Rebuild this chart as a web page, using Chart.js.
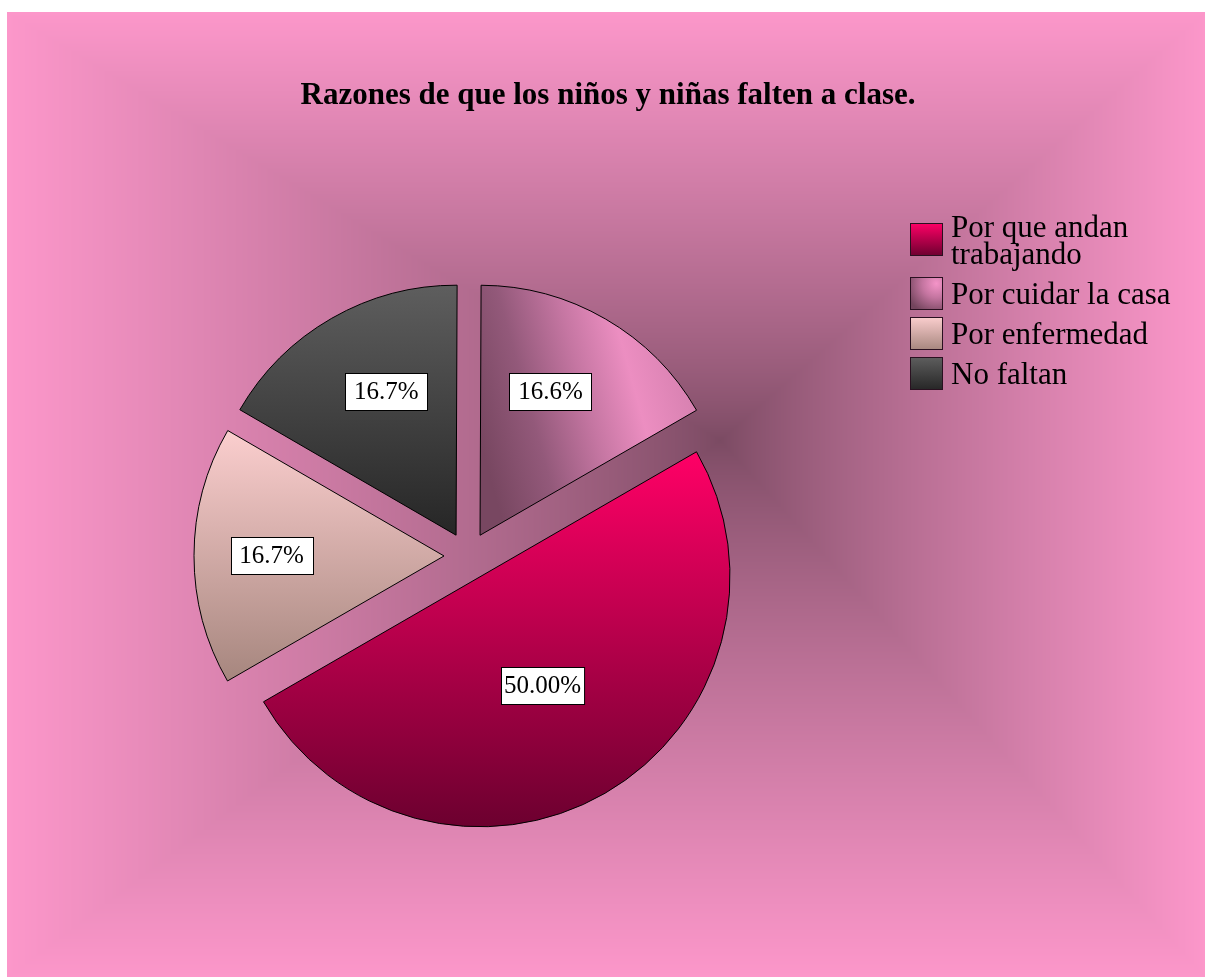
<!DOCTYPE html>
<html>
<head>
<meta charset="utf-8">
<title>Razones de que los niños y niñas falten a clase</title>
<script src="https://cdn.jsdelivr.net/npm/chart.js@4.4.0/dist/chart.umd.min.js"></script>
<style>
  html, body { margin: 0; padding: 0; background: #fff; }
  canvas { display: block; }
</style>
</head>
<body>
<canvas id="chart" width="1205" height="977"></canvas>
<script>
// data, in legend order
const TITLE = 'Razones de que los niños y niñas falten a clase.';
const categories = ['Por que andan trabajando', 'Por cuidar la casa', 'Por enfermedad', 'No faltan'];
const legendLines = [['Por que andan', 'trabajando'], ['Por cuidar la casa'], ['Por enfermedad'], ['No faltan']];
const percentValues = [50.0, 16.6, 16.7, 16.7];
const percentLabels = ['50.00%', '16.6%', '16.7%', '16.7%'];
// slices go clockwise from the 60deg rotation in this order
const sliceOrder = [0, 2, 3, 1];

/* ------------------------------- styling ------------------------------- */
const FONT = '"Liberation Serif", "Times New Roman", serif';
const ROTATION = 60;     // degrees, 0 = 12 o'clock
const PIE_RADIUS = 250;
const EXPLODE = 24;      // px each slice is pulled out
const labelDist = [0.5, 0.64, 0.69, 0.64];   // label distance from slice tip, * radius
const labelTurn = [0, -4, 0, 4];             // degrees, nudges label off the mid angle

const BG = { left: 7, top: 12, right: 1205, bottom: 977, cx: 720, cy: 440 };
const BG_EDGE = [252, 151, 202];
const BG_CENTER = [122, 74, 98];
const BG_GAMMA = 0.8;

// fill for slice / legend box k inside box (x0,y0)-(x1,y1)
function makeFill(ctx, k, x0, y0, x1, y1, isBox) {
  let g;
  if (k === 0) {
    g = ctx.createLinearGradient(0, y0, 0, y1);
    g.addColorStop(0, '#ff0066');
    g.addColorStop(1, '#6c002f');
  } else if (k === 1) {
    const w = x1 - x0, h = y1 - y0;
    if (isBox) {
      g = ctx.createRadialGradient(x0 + w * 0.8, y0 + h * 0.2, 0, x0 + w * 0.8, y0 + h * 0.2, w * 0.95);
      g.addColorStop(0, '#f494c8');
      g.addColorStop(0.45, '#c475a0');
      g.addColorStop(1, '#74455d');
    } else {
      const ym = (y0 + y1) / 2;
      g = ctx.createLinearGradient(x0, ym + h * 0.12, x1, ym - h * 0.12);
      g.addColorStop(0, '#784761');
      g.addColorStop(0.25, '#93597a');
      g.addColorStop(0.5, '#c576a2');
      g.addColorStop(0.72, '#ec8ec1');
      g.addColorStop(1, '#d47fae');
    }
  } else if (k === 2) {
    g = ctx.createLinearGradient(0, y0, 0, y1);
    g.addColorStop(0, '#fbcece');
    g.addColorStop(1, '#a6867e');
  } else {
    g = ctx.createLinearGradient(0, y0, 0, y1);
    g.addColorStop(0, '#5e5e5e');
    g.addColorStop(1, '#262626');
  }
  return g;
}

// exploded tip of pie slice i (pie order) from the chart area
function sliceTip(chart, i) {
  const a = chart.chartArea;
  const cx = (a.left + a.right) / 2, cy = (a.top + a.bottom) / 2;
  const vals = chart.data.datasets[0].data;
  const total = vals.reduce((s, v) => s + v, 0);
  let before = 0;
  for (let j = 0; j < i; j++) before += vals[j];
  const mid = (ROTATION - 90) * Math.PI / 180 + (before + vals[i] / 2) / total * 2 * Math.PI;
  return { x: cx + Math.cos(mid) * EXPLODE, y: cy + Math.sin(mid) * EXPLODE };
}

function sliceFill(c) {
  const chart = c.chart;
  if (!chart.chartArea) return '#ccc';
  const k = sliceOrder[c.dataIndex];
  const t = sliceTip(chart, c.dataIndex);
  const R = PIE_RADIUS;
  const ctx = chart.ctx;
  if (k === 0) return makeFill(ctx, 0, t.x - R, t.y - R / 2, t.x + R, t.y + R);
  if (k === 1) return makeFill(ctx, 1, t.x, t.y - R, t.x + R * 0.87, t.y);
  if (k === 2) return makeFill(ctx, 2, t.x - R, t.y - R / 2, t.x, t.y + R / 2);
  return makeFill(ctx, 3, t.x - R * 0.87, t.y - R, t.x, t.y);
}

/* ------------------------------ background ----------------------------- */
let bgCanvas = null;
function buildBackground(w, h) {
  const off = document.createElement('canvas');
  off.width = w; off.height = h;
  const octx = off.getContext('2d');
  const img = octx.createImageData(w, h);
  const d = img.data;
  for (let y = 0; y < h; y++) {
    for (let x = 0; x < w; x++) {
      const p = (y * w + x) * 4;
      if (x < BG.left || y < BG.top || x >= BG.right || y >= BG.bottom) {
        d[p] = d[p + 1] = d[p + 2] = 255; d[p + 3] = 255;
        continue;
      }
      // rectangular "from centre" gradient
      const tx = x < BG.cx ? (BG.cx - x) / (BG.cx - BG.left) : (x - BG.cx) / (BG.right - BG.cx);
      const ty = y < BG.cy ? (BG.cy - y) / (BG.cy - BG.top) : (y - BG.cy) / (BG.bottom - BG.cy);
      const t = Math.pow(Math.min(1, Math.max(tx, ty)), BG_GAMMA);
      d[p] = BG_CENTER[0] + (BG_EDGE[0] - BG_CENTER[0]) * t;
      d[p + 1] = BG_CENTER[1] + (BG_EDGE[1] - BG_CENTER[1]) * t;
      d[p + 2] = BG_CENTER[2] + (BG_EDGE[2] - BG_CENTER[2]) * t;
      d[p + 3] = 255;
    }
  }
  octx.putImageData(img, 0, 0);
  return off;
}

const backgroundPlugin = {
  id: 'pinkBackground',
  beforeDraw(chart) {
    if (!bgCanvas) bgCanvas = buildBackground(chart.width, chart.height);
    chart.ctx.drawImage(bgCanvas, 0, 0);
  }
};

// pull every slice out along its middle angle
const explodePlugin = {
  id: 'explode',
  afterUpdate(chart) {
    chart.getDatasetMeta(0).data.forEach(arc => {
      const mid = (arc.startAngle + arc.endAngle) / 2;
      arc.x += Math.cos(mid) * EXPLODE;
      arc.y += Math.sin(mid) * EXPLODE;
    });
  }
};

const decorPlugin = {
  id: 'decor',
  afterDatasetsDraw(chart) {
    const ctx = chart.ctx;
    ctx.save();
    // value labels
    ctx.font = '25px ' + FONT;
    ctx.textAlign = 'center';
    ctx.textBaseline = 'middle';
    chart.getDatasetMeta(0).data.forEach((arc, i) => {
      const k = sliceOrder[i];
      const ang = (arc.startAngle + arc.endAngle) / 2 + labelTurn[k] * Math.PI / 180;
      const r = arc.outerRadius * labelDist[k];
      const x = arc.x + Math.cos(ang) * r;
      const y = arc.y + Math.sin(ang) * r;
      const txt = percentLabels[k];
      const w = Math.max(82, ctx.measureText(txt).width + 6);
      const h = 37;
      const bx = Math.round(x - w / 2) + 0.5, by = Math.round(y - h / 2) + 0.5;
      ctx.fillStyle = '#fff';
      ctx.fillRect(bx, by, w, h);
      ctx.strokeStyle = '#000';
      ctx.lineWidth = 1;
      ctx.strokeRect(bx, by, w, h);
      ctx.fillStyle = '#000';
      ctx.fillText(txt, x, y + 1);
    });

    // title
    ctx.font = 'bold 31px ' + FONT;
    ctx.textAlign = 'center';
    ctx.textBaseline = 'alphabetic';
    ctx.fillText(TITLE, 608, 104);

    // legend
    ctx.font = '31px ' + FONT;
    ctx.textAlign = 'left';
    const boxX = 910, box = 33, textX = 951;
    let base = 237;
    categories.forEach((name, k) => {
      const lines = legendLines[k];
      const first = base, last = base + (lines.length - 1) * 27;
      const boxY = Math.round((first + last) / 2 - 11 - box / 2);
      ctx.fillStyle = makeFill(ctx, k, boxX, boxY, boxX + box, boxY + box, true);
      ctx.fillRect(boxX, boxY, box, box);
      ctx.strokeStyle = '#2a1020';
      ctx.lineWidth = 1;
      ctx.strokeRect(boxX + 0.5, boxY + 0.5, box - 1, box - 1);
      ctx.fillStyle = '#000';
      lines.forEach((ln, j) => ctx.fillText(ln, textX, first + j * 27));
      base = last + 40;
    });
    ctx.restore();
  }
};

new Chart(document.getElementById('chart').getContext('2d'), {
  type: 'pie',
  data: {
    labels: sliceOrder.map(i => categories[i]),
    datasets: [{
      data: sliceOrder.map(i => percentValues[i]),
      backgroundColor: sliceFill,
      borderColor: '#000',
      borderWidth: 1
    }]
  },
  options: {
    responsive: false,
    devicePixelRatio: 1,
    animation: false,
    rotation: ROTATION,
    radius: PIE_RADIUS,
    layout: { padding: { left: 168, right: 437, top: 256, bottom: 121 } },
    plugins: {
      legend: { display: false },
      title: { display: false },
      tooltip: { enabled: false }
    }
  },
  plugins: [backgroundPlugin, explodePlugin, decorPlugin]
});
</script>
</body>
</html>
